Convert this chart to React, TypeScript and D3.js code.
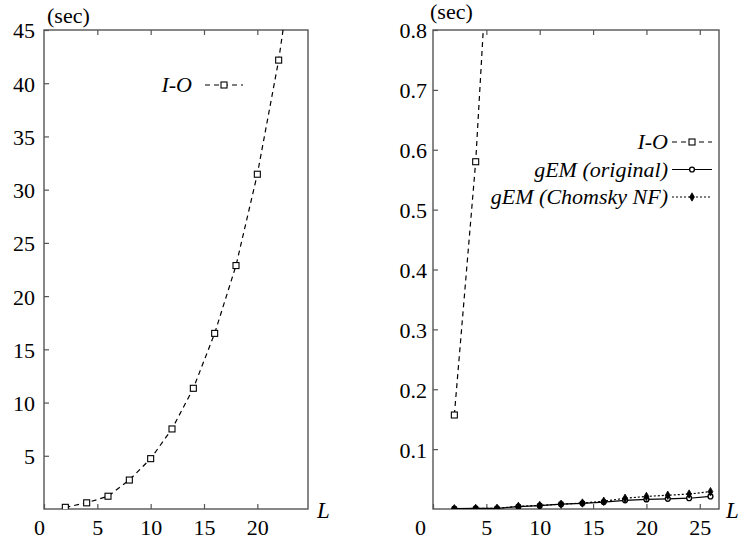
import React, { useRef, useEffect } from 'react';
import * as d3 from 'd3';

// L values where runs were measured
const lengths = [2, 4, 6, 8, 10, 12, 14, 16, 18, 20, 22, 24, 26];
// seconds (I-O beyond the frame is only seen as the line leaving it)
const ioSec = [0.157, 0.58, 1.2, 2.72, 4.73, 7.52, 11.34, 16.5, 22.87, 31.45, 42.17, 56];
const gemOriginalSec = [0.0005, 0.001, 0.0012, 0.004, 0.0055, 0.008, 0.0095, 0.0115, 0.0145, 0.016, 0.017, 0.018, 0.021];
const gemChomskySec = [0.0005, 0.001, 0.0012, 0.0045, 0.006, 0.008, 0.010, 0.013, 0.018, 0.021, 0.023, 0.025, 0.029];

const leftYTicks = [5, 10, 15, 20, 25, 30, 35, 40, 45];
const leftXTicks = [0, 5, 10, 15, 20];
const rightYTicks = [0.1, 0.2, 0.3, 0.4, 0.5, 0.6, 0.7, 0.8];
const rightXTicks = [0, 5, 10, 15, 20, 25];

const FONT = "'Liberation Serif', 'Times New Roman', 'DejaVu Serif', serif";

type Series = { name: string, values: number[], dash: string | null, marker: string };

const seriesIO: Series = { name: 'I-O', values: ioSec, dash: '5,4', marker: 'square' };
const seriesOriginal: Series = { name: 'gEM (original)', values: gemOriginalSec, dash: null, marker: 'circle' };
const seriesChomsky: Series = { name: 'gEM (Chomsky NF)', values: gemChomskySec, dash: '2,2', marker: 'diamond' };

const drawMarker = (sel: any, kind: string) => {
    if (kind === 'square') {
        sel.append('rect').attr('x', -3).attr('y', -3).attr('width', 6).attr('height', 6)
            .attr('fill', '#fff').attr('stroke', '#000').attr('stroke-width', 1.1);
    } else if (kind === 'circle') {
        sel.append('circle').attr('r', 2.4)
            .attr('fill', '#fff').attr('stroke', '#000').attr('stroke-width', 1.4);
    } else {
        sel.append('path').attr('d', d3.symbol().type(d3.symbolDiamond).size(20)())
            .attr('fill', '#000').attr('stroke', '#000').attr('stroke-width', 0.8);
    }
}

const Panel = ({ cfg }: { cfg: any }) => {
    const gRef = useRef<SVGGElement>(null);

    useEffect(() => {
        const g = d3.select(gRef.current);
        g.selectAll('*').remove();

        const x = d3.scaleLinear().domain([0, cfg.xMax]).range([cfg.left, cfg.right]);
        const y = d3.scaleLinear().domain([0, cfg.yMax]).range([cfg.bottom, cfg.top]);

        const clipId = cfg.id + '-clip';
        g.append('clipPath').attr('id', clipId)
            .append('rect')
            .attr('x', cfg.left).attr('y', cfg.top)
            .attr('width', cfg.right - cfg.left).attr('height', cfg.bottom - cfg.top);

        // Axes (inward ticks)
        const xAxis = g.append('g').attr('transform', `translate(0,${cfg.bottom})`)
            .call(d3.axisBottom(x).tickValues(cfg.xTicks).tickSizeInner(-5).tickSizeOuter(0).tickPadding(10));
        const xTop = g.append('g').attr('transform', `translate(0,${cfg.top})`)
            .call(d3.axisTop(x).tickValues(cfg.xTicks.filter((t: number) => t > 0)).tickSizeInner(-5).tickSizeOuter(0).tickFormat(() => ''));
        const yAxis = g.append('g').attr('transform', `translate(${cfg.left},0)`)
            .call(d3.axisLeft(y).tickValues(cfg.yTicks).tickSizeInner(-5).tickSizeOuter(0)
                .tickPadding(cfg.yLabelGap).tickFormat(d3.format(cfg.yFormat)));

        [xAxis, xTop, yAxis].forEach(a => {
            a.attr('font-family', null).attr('font-size', null);
            a.select('.domain').remove();
            a.selectAll('.tick line').attr('stroke', '#555').attr('stroke-width', 1.2);
            a.selectAll('.tick text').attr('fill', '#000');
        });
        xAxis.selectAll('.tick text')
            .attr('dx', (d: any) => d === 0 ? cfg.zeroDx : 0);
        yAxis.selectAll('.tick text').attr('dy', '0.36em');

        // frame
        g.append('rect')
            .attr('x', cfg.left).attr('y', cfg.top)
            .attr('width', cfg.right - cfg.left).attr('height', cfg.bottom - cfg.top)
            .attr('fill', 'none').attr('stroke', '#555').attr('stroke-width', 1.4);

        // lines + markers
        const plot = g.append('g').attr('clip-path', `url(#${clipId})`);
        cfg.series.forEach((s: Series) => {
            const pts = s.values.map((v, i) => [lengths[i], v]);
            const line = d3.line<number[]>().x(d => x(d[0])).y(d => y(d[1]));
            plot.append('path')
                .attr('d', line(pts))
                .attr('fill', 'none')
                .attr('stroke', '#000')
                .attr('stroke-width', 1.2)
                .attr('stroke-dasharray', s.dash);
            pts.forEach(p => {
                const m = plot.append('g').attr('transform', `translate(${x(p[0])},${y(p[1])})`);
                drawMarker(m, s.marker);
            });
        });

        // legend
        cfg.series.forEach((s: Series, i: number) => {
            const ly = cfg.legend.y + i * cfg.legend.step;
            g.append('text')
                .attr('x', cfg.legend.textEnd).attr('y', ly + 7)
                .attr('text-anchor', 'end')
                .style('font-style', 'italic')
                .text(s.name);
            g.append('line')
                .attr('x1', cfg.legend.x1).attr('x2', cfg.legend.x2)
                .attr('y1', ly).attr('y2', ly)
                .attr('stroke', '#000').attr('stroke-width', 1.2)
                .attr('stroke-dasharray', s.dash);
            const m = g.append('g').attr('transform', `translate(${(cfg.legend.x1 + cfg.legend.x2) / 2},${ly})`);
            drawMarker(m, s.marker);
        });

        // unit + axis name
        g.append('text')
            .attr('x', cfg.secX).attr('y', cfg.secY)
            .text('(sec)');
        g.append('text')
            .attr('x', cfg.lX).attr('y', 518)
            .style('font-size', '23px').style('font-style', 'italic')
            .text('L');
    }, [cfg]);

    return <g ref={gRef}></g>;
}

const leftCfg = {
    id: 'left', left: 44, right: 308, top: 30, bottom: 509,
    xMax: 24.75, yMax: 45, xTicks: leftXTicks, yTicks: leftYTicks, yFormat: 'd',
    yLabelGap: 9, zeroDx: -5, secX: 47, secY: 23, lX: 317,
    series: [seriesIO],
    legend: { textEnd: 192, x1: 205, x2: 243, y: 85, step: 0 },
};

const rightCfg = {
    id: 'right', left: 433, right: 719, top: 30, bottom: 509,
    xMax: 26.8, yMax: 0.8, xTicks: rightXTicks, yTicks: rightYTicks, yFormat: '.1f',
    yLabelGap: 6, zeroDx: -13, secX: 430, secY: 19, lX: 726,
    series: [seriesIO, seriesOriginal, seriesChomsky],
    legend: { textEnd: 668, x1: 672, x2: 712, y: 142, step: 27.5 },
};

export default function App() {
    return (
        <svg width={741} height={540}
            style={{ position: 'absolute', left: 0, top: 0, background: '#fff', fontFamily: FONT, fontSize: '22px' }}>
            <Panel cfg={leftCfg} />
            <Panel cfg={rightCfg} />
        </svg>
    );
}
